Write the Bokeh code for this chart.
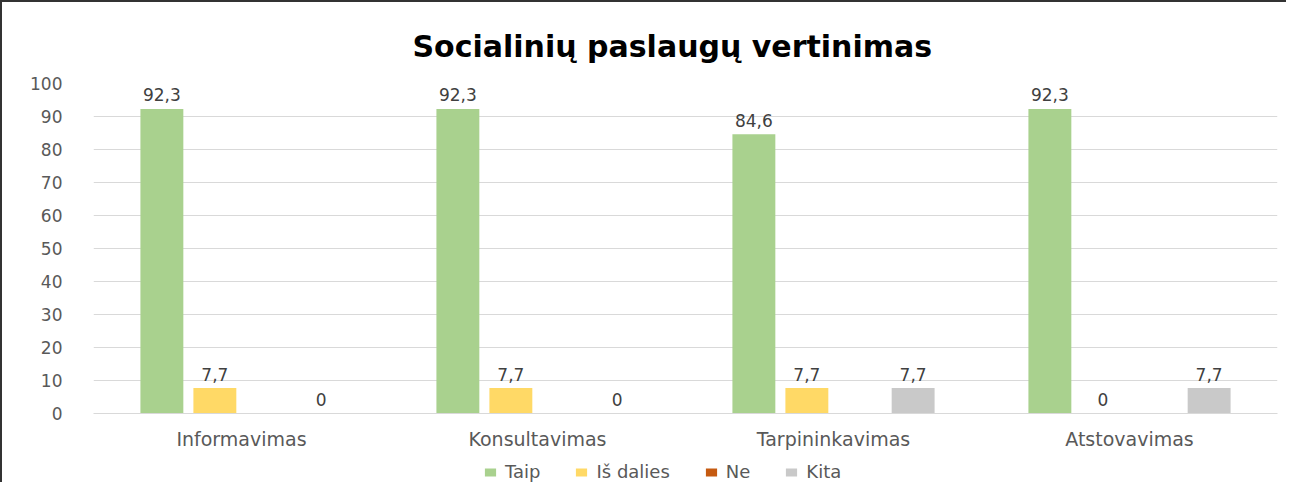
from bokeh.plotting import figure
from bokeh.layouts import column
from bokeh.models import ColumnDataSource, Legend, LegendItem, Range1d, FixedTicker
from bokeh.transform import dodge
from bokeh.core.properties import value
from bokeh.embed import file_html
from bokeh.resources import INLINE

categories = ["Informavimas", "Konsultavimas", "Tarpininkavimas", "Atstovavimas"]
series = ["Taip", "Iš dalies", "Ne", "Kita"]
taip = [92.3, 92.3, 84.6, 92.3]
is_dalies = [7.7, 7.7, 7.7, 0]
ne = [None, None, None, None]
kita = [0, 0, 7.7, 7.7]
colors = ["#A9D18E", "#FFD966", "#C55A11", "#C9C9C9"]
y_ticks = [0, 10, 20, 30, 40, 50, 60, 70, 80, 90, 100]

FONT = "DejaVu Sans"

p = figure(x_range=categories, y_range=Range1d(0, 100), width=1284, height=450,
           output_backend="svg", toolbar_location=None,
           min_border_left=91, min_border_right=9, min_border_top=81, min_border_bottom=39)
p.title.text = "Socialinių paslaugų vertinimas"
p.title.align = "left"
p.title.offset = 319
p.title.text_font = FONT
p.title.text_font_size = "30px"
p.title.text_font_style = "bold"
p.title.text_color = "#000000"
p.title.standoff = 39

p.outline_line_color = None
p.xgrid.grid_line_color = None
p.ygrid.grid_line_color = "#D9D9D9"
p.ygrid.ticker = FixedTicker(ticks=y_ticks)

p.yaxis.ticker = FixedTicker(ticks=y_ticks)
p.yaxis.axis_line_color = None
p.yaxis.major_tick_line_color = None
p.yaxis.minor_tick_line_color = None
p.yaxis.major_label_text_font = FONT
p.yaxis.major_label_text_font_size = "17px"
p.yaxis.major_label_text_color = "#595959"
p.yaxis.major_label_standoff = 25

p.xaxis.axis_line_color = "#D9D9D9"
p.xaxis.major_tick_line_color = None
p.xaxis.minor_tick_line_color = None
p.xaxis.major_label_text_font = FONT
p.xaxis.major_label_text_font_size = "19px"
p.xaxis.major_label_text_color = "#595959"
p.xaxis.major_label_standoff = 8

# legend strip below the chart
pl = figure(x_range=categories, y_range=Range1d(0, 1), width=1284, height=30,
            output_backend="svg", toolbar_location=None,
            x_axis_location=None, y_axis_location=None,
            min_border_left=0, min_border_right=0, min_border_top=0, min_border_bottom=0)
pl.outline_line_color = None
pl.xgrid.grid_line_color = None
pl.ygrid.grid_line_color = None

offsets = [-0.269, -0.090, 0.090, 0.269]
all_vals = [taip, is_dalies, ne, kita]
items = []
for name, vals, col, off in zip(series, all_vals, colors, offsets):
    tops = [float("nan") if v is None else v for v in vals]
    labels = ["" if v is None else f"{v:g}".replace(".", ",") for v in vals]
    src = ColumnDataSource(dict(x=categories, top=tops, label=labels))
    p.vbar(x=dodge("x", off, range=p.x_range), top="top", width=0.145,
           source=src, fill_color=col, line_color=None)
    p.text(x=dodge("x", off, range=p.x_range), y="top", text="label", source=src,
           text_align="center", text_baseline="alphabetic", y_offset=-14,
           text_font=value(FONT), text_font_size="17px", text_color="#404040")
    key_src = ColumnDataSource(dict(x=categories[:1], top=[float("nan")]))
    r = pl.vbar(x="x", top="top", width=0.145, source=key_src,
                fill_color=col, line_color=None)
    items.append(LegendItem(label=name, renderers=[r]))

legend = Legend(items=items, orientation="horizontal", location=(390, 0),
                label_text_font=FONT, label_text_font_size="18px",
                label_text_color="#595959", glyph_width=14, glyph_height=10,
                spacing=34, label_standoff=8, border_line_color=None,
                background_fill_alpha=0, padding=0, margin=0, label_height=20)
pl.add_layout(legend, "center")

layout = column(p, pl, spacing=0)
layout.styles = {"border-top": "2px solid #333333", "border-left": "2px solid #333333"}
open("out.html", "w").write(file_html(layout, INLINE))
